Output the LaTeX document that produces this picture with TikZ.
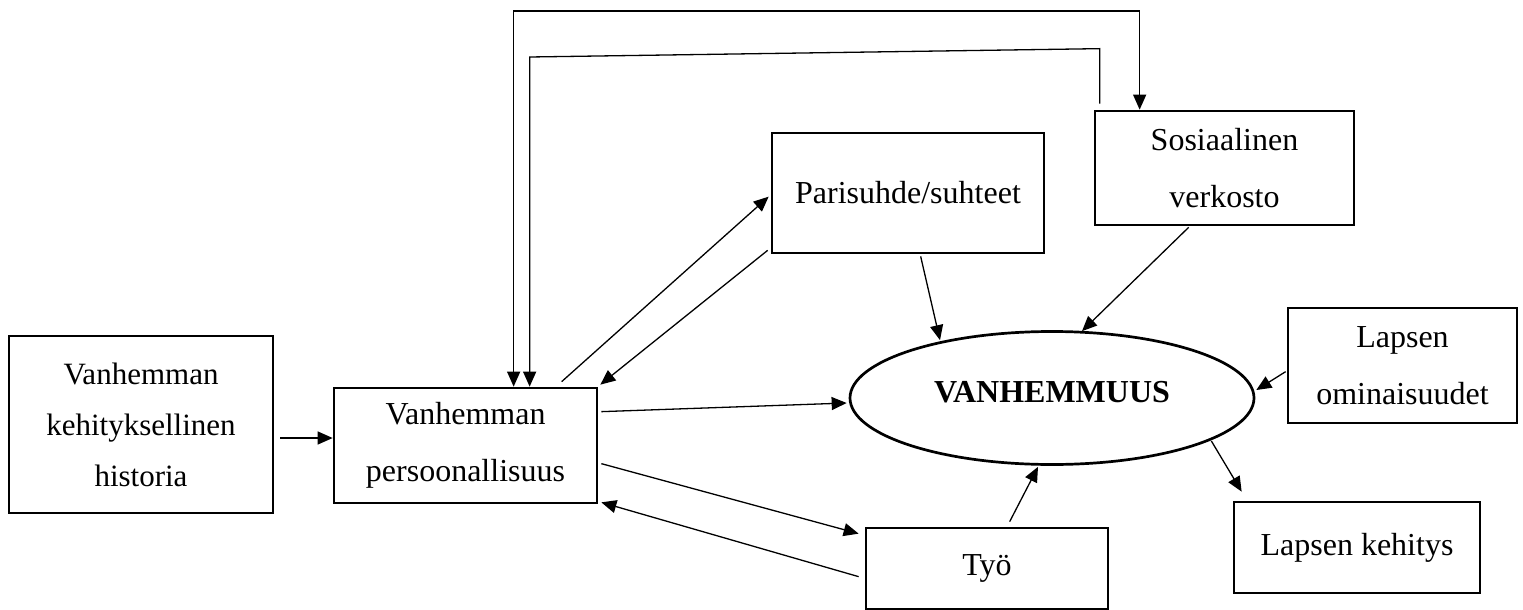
\documentclass[tikz,border=0pt]{standalone}
\usepackage{fontspec}
\setmainfont{Liberation Serif}
\usetikzlibrary{arrows.meta,calc,shapes.geometric}
\begin{document}
\begin{tikzpicture}[x=1pt,y=-1pt,
  rbox/.style={draw, line width=2.7pt, rectangle, align=center, inner sep=0pt, font=\fontsize{32}{57}\selectfont},
  tip/.style={Triangle[length=15pt,width=13pt]},
  conn/.style={line width=1.3pt, -{Triangle[length=15pt,width=13pt]}},
  both/.style={line width=1.3pt, {Triangle[length=15pt,width=13pt]}-{Triangle[length=15pt,width=13pt]}},
  plain/.style={line width=1.3pt}
  ]
\useasboundingbox (0,0) rectangle (1523,610);

% nodes
\node[rbox, minimum width=264pt, minimum height=177pt, font=\fontsize{31}{51}\selectfont] (hist) at (141,424.5) {Vanhemman\\kehityksellinen\\historia};
\node[rbox, minimum width=263pt, minimum height=115pt] (pers) at (465.5,445.5) {Vanhemman\\persoonallisuus};
\node[rbox, minimum width=272pt, minimum height=120pt] (pari) at (908,193) {Parisuhde/suhteet};
\node[rbox, minimum width=259pt, minimum height=114pt] (sos) at (1224.5,168) {Sosiaalinen\\verkosto};
\node[draw, ellipse, line width=2.7pt, minimum width=404pt, minimum height=133pt, inner sep=0pt, text depth=12pt, font=\bfseries\fontsize{32}{38}\selectfont] (vanh) at (1052,398) {VANHEMMUUS};
\node[rbox, minimum width=229pt, minimum height=115pt] (lom) at (1402.5,365.5) {Lapsen\\ominaisuudet};
\node[rbox, minimum width=246pt, minimum height=91pt] (lkeh) at (1357,547.5) {Lapsen kehitys};
\node[rbox, minimum width=242pt, minimum height=81pt] (tyo) at (987,568.5) {Työ};

% feedback loops at the top
\coordinate (o1) at ($(pers.north west)+(181,0)$);
\coordinate (o2) at ($(sos.north west)+(46,0)$);
\coordinate (otop) at (0,11);
\draw[both] (o1) -- (o1 |- otop) -- (o2 |- otop) -- (o2);

\coordinate (i1) at ($(pers.north west)+(197,0)$);
\coordinate (i2) at ($(sos.north west)+(6,-6)$);
\coordinate (itop) at (0,57);
\draw[conn] (i2) -- ++(0,-55) -- (i1 |- itop) -- (i1);

% connectors
\draw[conn] ($(hist.east)+(6,13.5)$) -- ($(pers.west)+(0,-7.5)$);
\draw[conn] ($(pers.north west)+(229,-5)$) -- ($(pari.north west)+(-2,65)$);
\draw[conn] ($(pari.south west)+(-3,-4)$) -- ($(pers.north east)+(2,-2)$);
\draw[conn] ($(pers.north east)+(3,25)$) -- ($(vanh.west)+(-2,5)$);
\draw[conn] ($(pers.north east)+(3,77)$) -- ($(tyo.north west)+(-6,7)$);
\draw[conn] ($(tyo.north west)+(-6,50)$) -- ($(pers.south east)+(3,-2)$);
\draw[conn] ($(tyo.north west)+(145,-5)$) -- ($(vanh.south)+(-14,1)$);
\draw[conn] ($(pari.south west)+(150,2)$) -- ($(vanh.north)+(-112,10)$);
\draw[conn] ($(sos.south west)+(95,1)$) -- ($(vanh.north)+(30,1)$);
\draw[conn] ($(lom.north west)+(-1,65)$) -- ($(vanh.east)+(1,-8)$);
\draw[conn] ($(vanh.east)+(-44,43)$) -- ($(lkeh.north west)+(9,-9)$);
\end{tikzpicture}
\end{document}
